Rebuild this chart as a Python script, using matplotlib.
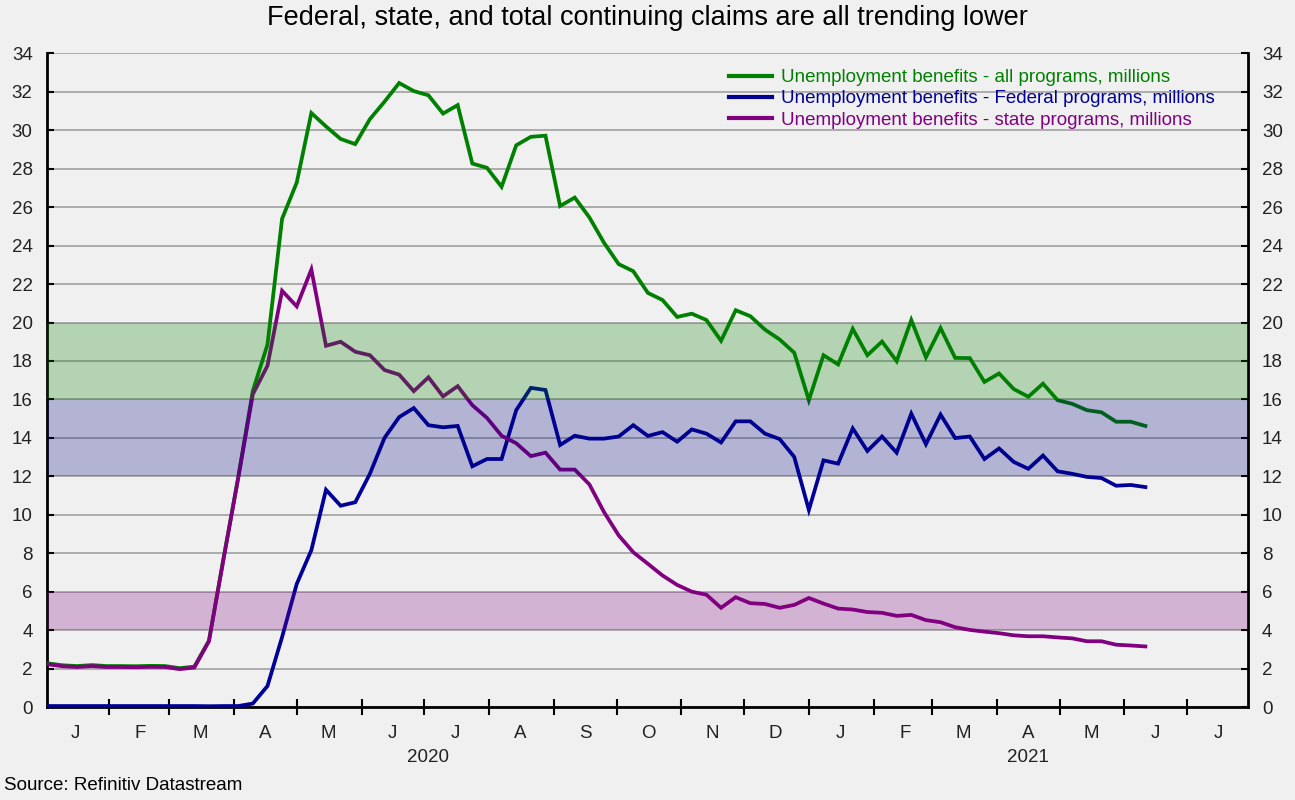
import matplotlib
matplotlib.use('Agg')
import matplotlib.pyplot as plt
import matplotlib.dates as mdates
from matplotlib.ticker import FuncFormatter, MultipleLocator
import pandas as pd

plt.rcParams['font.family'] = ['Liberation Sans', 'DejaVu Sans']

# ---- data (millions), weekly ----
first_week = '2020-01-03'
all_programs = [2.27, 2.17, 2.13, 2.18, 2.13, 2.13, 2.12, 2.14, 2.13, 2.02,
                2.10, 3.45, 7.75, 11.95, 16.45, 18.85, 25.40, 27.28, 30.90, 30.20,
                29.55, 29.28, 30.58, 31.49, 32.46, 32.04, 31.82, 30.87, 31.31, 28.27,
                28.05, 27.06, 29.22, 29.66, 29.72, 26.06, 26.50, 25.47, 24.15, 23.04,
                22.67, 21.54, 21.17, 20.29, 20.46, 20.13, 19.05, 20.64, 20.33, 19.63,
                19.12, 18.43, 15.96, 18.30, 17.82, 19.67, 18.30, 19.01, 17.99, 20.13,
                18.19, 19.71, 18.16, 18.15, 16.91, 17.35, 16.54, 16.14, 16.82, 15.96,
                15.77, 15.44, 15.33, 14.84, 14.84, 14.62]
federal = [0.05, 0.05, 0.05, 0.05, 0.05, 0.05, 0.05, 0.05, 0.05, 0.05,
           0.05, 0.04, 0.05, 0.05, 0.18, 1.09, 3.64, 6.40, 8.16, 11.30,
           10.47, 10.65, 12.13, 14.00, 15.08, 15.55, 14.66, 14.55, 14.62, 12.52,
           12.90, 12.90, 15.44, 16.60, 16.49, 13.63, 14.11, 13.96, 13.96, 14.07,
           14.66, 14.10, 14.30, 13.80, 14.44, 14.22, 13.76, 14.86, 14.86, 14.22,
           13.94, 13.01, 10.25, 12.83, 12.66, 14.49, 13.32, 14.07, 13.23, 15.26,
           13.67, 15.21, 13.99, 14.07, 12.90, 13.45, 12.75, 12.39, 13.08, 12.26,
           12.13, 11.97, 11.91, 11.51, 11.55, 11.44]
state = [2.22, 2.12, 2.08, 2.13, 2.08, 2.08, 2.07, 2.09, 2.08, 1.97,
         2.05, 3.42, 7.70, 11.90, 16.27, 17.75, 21.65, 20.84, 22.76, 18.79,
         19.00, 18.48, 18.30, 17.53, 17.29, 16.43, 17.15, 16.16, 16.69, 15.70,
         15.04, 14.11, 13.72, 13.05, 13.23, 12.35, 12.35, 11.58, 10.14, 8.93,
         8.05, 7.45, 6.84, 6.35, 6.00, 5.84, 5.16, 5.71, 5.40, 5.36,
         5.16, 5.31, 5.67, 5.38, 5.12, 5.07, 4.94, 4.90, 4.74, 4.79,
         4.52, 4.41, 4.15, 4.01, 3.92, 3.84, 3.73, 3.68, 3.68, 3.62,
         3.57, 3.42, 3.42, 3.24, 3.20, 3.15]

series_labels = ['Unemployment benefits - all programs, millions',
                 'Unemployment benefits - Federal programs, millions',
                 'Unemployment benefits - state programs, millions']
series_colors = ['#008000', '#000096', '#800080']
bands = [(16, 20, '#008000'), (12, 16, '#000080'), (4, 6, '#800080')]
title = 'Federal, state, and total continuing claims are all trending lower'
source = 'Source: Refinitiv Datastream'

dates = pd.date_range(first_week, periods=len(all_programs), freq='7D')
x_start = pd.Timestamp('2020-01-02 07:00')
x_end = pd.Timestamp('2021-07-30 02:00')

BG = '#f0f0f0'
W, H = 1295, 800
fig = plt.figure(figsize=(W / 100, H / 100), dpi=100, facecolor=BG)
ax = fig.add_axes([46.5 / W, (H - 707) / H, (1248 - 46.5) / W, (707 - 53.4) / H])
ax.set_facecolor(BG)

for vals, lab, col in zip([all_programs, federal, state], series_labels, series_colors):
    ax.plot(dates, vals, color=col, lw=2.7, label=lab, zorder=3,
            solid_joinstyle='miter')

for lo, hi, col in bands:
    ax.axhspan(lo, hi, color=col, alpha=0.25, lw=0, zorder=4)

ax.set_ylim(0, 34)
ax.set_xlim(x_start, x_end)
ax.yaxis.set_major_locator(MultipleLocator(2))
ax.yaxis.grid(True, color='#a0a0a0', lw=1.2)
ax.set_axisbelow(True)

ax.spines['top'].set_visible(False)
for s in ['left', 'right', 'bottom']:
    ax.spines[s].set_linewidth(2)
    ax.spines[s].set_color('black')

ax.tick_params(axis='y', which='both', left=True, right=True, labelleft=True,
               labelright=True, direction='in', length=5, width=1.5,
               labelsize=13.5, pad=10, labelcolor='#222222')

ax.xaxis.set_major_locator(mdates.MonthLocator())
ax.xaxis.set_major_formatter(FuncFormatter(lambda v, p: ''))
ax.xaxis.set_minor_locator(mdates.MonthLocator(bymonthday=16))
ax.xaxis.set_minor_formatter(FuncFormatter(
    lambda v, p: mdates.num2date(v).strftime('%b')[0]))
ax.tick_params(axis='x', which='major', direction='inout', length=12, width=1.5)
ax.tick_params(axis='x', which='minor', length=0, pad=13, labelsize=13.5,
               labelcolor='#222222')

# year labels centred on the visible part of each year
trans = ax.get_xaxis_transform()
y2020_mid = x_start + (pd.Timestamp('2021-01-01') - x_start) / 2
y2021_mid = pd.Timestamp('2021-01-01') + (x_end - pd.Timestamp('2021-01-01')) / 2
for d, txt in [(y2020_mid, '2020'), (y2021_mid, '2021')]:
    ax.text(d, -0.078, txt, transform=trans, ha='center', va='center',
            fontsize=13.5, color='#222222')

leg = ax.legend(loc='upper left', bbox_to_anchor=(729 / W, (H - 69) / H),
                bbox_transform=fig.transFigure, frameon=False, fontsize=13.5,
                handlelength=2.3, handletextpad=0.45, labelspacing=0.22,
                borderpad=0, borderaxespad=0, labelcolor='linecolor')
for h in leg.get_lines():
    h.set_linewidth(3)

fig.text(0.5, (H - 18) / H, title, ha='center', va='center', fontsize=19.5,
         color='black')
fig.text(4 / W, (H - 786) / H, source, ha='left', va='center', fontsize=13.5,
         color='black')

fig.savefig('out.png', dpi=100, facecolor=BG)
